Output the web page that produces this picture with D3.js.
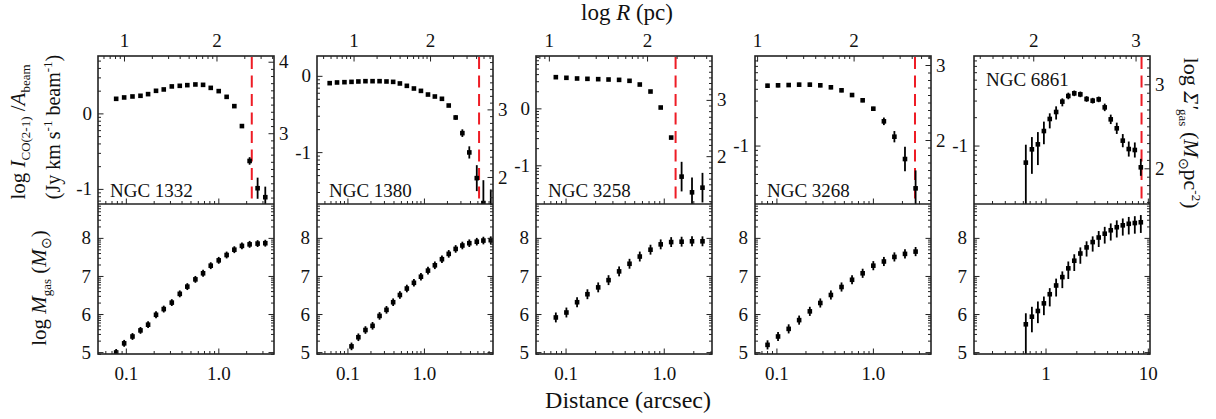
<!DOCTYPE html>
<html><head><meta charset="utf-8">
<script src="https://cdn.jsdelivr.net/npm/d3@7"></script>
<style>
body{margin:0;background:#fff}
svg text{font-family:"Liberation Serif","Times New Roman",serif;fill:#111}
</style></head><body>
<svg id="chart" width="1216" height="419"></svg>
<script>
// ---------------- data ----------------
const galaxies = ["NGC 1332","NGC 1380","NGC 3258","NGC 3268","NGC 6861"];
const pcOffset = [2.02, 1.92, 2.17, 2.20, 2.12];          // log(pc per arcsec)
const redLine = [2.30, 5.26, 1.32, 2.73, 8.68];            // arcsec

const dist1332 = [0.0786,0.0959,0.118,0.144,0.174,0.212,0.257,0.314,0.383,0.462,0.565,0.684,0.828,1.01,1.23,1.49,1.80,2.18,2.66,3.22];
const logI1332 = [0.193,0.211,0.224,0.233,0.255,0.299,0.317,0.357,0.365,0.374,0.383,0.378,0.338,0.295,0.219,0.096,-0.168,-0.630,-0.991,-1.110];
const errI1332 = [0.01,0.01,0.01,0.01,0.01,0.01,0.01,0.01,0.01,0.01,0.01,0.01,0.01,0.01,0.01,0.01,0.02,0.05,0.14,0.14];
const logM1332 = [4.99,5.23,5.41,5.57,5.72,5.98,6.13,6.30,6.53,6.72,6.91,7.07,7.27,7.41,7.55,7.69,7.79,7.83,7.85,7.86];
const errM1332 = [0.09,0.09,0.09,0.09,0.09,0.09,0.09,0.09,0.09,0.09,0.09,0.09,0.09,0.09,0.09,0.09,0.09,0.09,0.09,0.09];

const dist1380 = [0.0586,0.0731,0.0914,0.113,0.139,0.172,0.213,0.263,0.324,0.396,0.485,0.598,0.740,0.914,1.13,1.39,1.72,2.11,2.60,3.18,3.92,4.91,5.99,7.48];
const logI1380 = [-0.096,-0.087,-0.083,-0.079,-0.074,-0.070,-0.070,-0.070,-0.074,-0.079,-0.100,-0.131,-0.166,-0.197,-0.245,-0.271,-0.301,-0.389,-0.546,-0.751,-1.004,-1.341,-1.668,-1.90];
const errI1380 = [0.01,0.01,0.01,0.01,0.01,0.01,0.01,0.01,0.01,0.01,0.01,0.01,0.01,0.01,0.01,0.01,0.01,0.01,0.03,0.05,0.08,0.17,0.30,0.41];
const logM1380 = [null,null,null,5.15,5.39,5.58,5.69,5.95,6.11,6.31,6.50,6.67,6.82,6.98,7.14,7.28,7.44,7.58,7.71,7.80,7.86,7.90,7.93,7.94];
const errM1380 = [0.1,0.1,0.1,0.1,0.1,0.1,0.1,0.1,0.1,0.1,0.1,0.1,0.1,0.1,0.1,0.1,0.1,0.1,0.1,0.1,0.1,0.1,0.1,0.1];

const dist3258 = [0.0796,0.102,0.131,0.167,0.215,0.274,0.351,0.448,0.570,0.733,0.931,1.19,1.52,1.94,2.48];
const logI3258 = [0.548,0.537,0.525,0.519,0.513,0.507,0.501,0.484,0.419,0.296,0.015,-0.513,-1.199,-1.475,-1.393];
const errI3258 = [0.01,0.01,0.01,0.01,0.01,0.01,0.01,0.01,0.01,0.01,0.01,0.02,0.26,0.26,0.26];
const logM3258 = [5.91,6.04,6.31,6.52,6.70,6.89,7.12,7.32,7.51,7.69,7.83,7.89,7.90,7.91,7.91];
const errM3258 = [0.13,0.13,0.13,0.13,0.13,0.13,0.13,0.13,0.13,0.13,0.13,0.13,0.13,0.13,0.13];

const dist3268 = [0.0809,0.104,0.134,0.172,0.222,0.285,0.367,0.473,0.608,0.783,1.01,1.30,1.67,2.15,2.77];
const logI3268 = [-0.365,-0.361,-0.358,-0.354,-0.354,-0.361,-0.382,-0.414,-0.464,-0.520,-0.609,-0.743,-0.906,-1.143,-1.454];
const errI3268 = [0.02,0.02,0.02,0.02,0.02,0.02,0.02,0.02,0.02,0.02,0.02,0.04,0.06,0.13,0.19];
const logM3268 = [5.19,5.41,5.61,5.84,6.07,6.29,6.50,6.71,6.90,7.07,7.27,7.38,7.50,7.58,7.64];
const errM3268 = [0.12,0.12,0.12,0.12,0.12,0.12,0.12,0.12,0.12,0.12,0.12,0.12,0.12,0.12,0.12];

const dist6861 = [0.642,0.736,0.842,0.964,1.10,1.27,1.46,1.67,1.91,2.19,2.52,2.89,3.31,3.79,4.34,4.97,5.69,6.51,7.46,8.54];
const logI6861 = [-1.181,-1.040,-0.987,-0.846,-0.718,-0.644,-0.534,-0.474,-0.446,-0.457,-0.506,-0.524,-0.510,-0.595,-0.722,-0.817,-0.948,-1.037,-1.047,-1.231];
const errIUp6861 = [0.19,0.13,0.13,0.10,0.06,0.06,0.035,0.035,0.03,0.03,0.03,0.03,0.03,0.04,0.05,0.06,0.07,0.08,0.08,0.09];
const errIDn6861 = [0.45,0.26,0.22,0.14,0.10,0.08,0.05,0.035,0.03,0.03,0.03,0.03,0.03,0.04,0.05,0.06,0.07,0.08,0.08,0.09];
const logM6861 = [5.73,5.93,6.08,6.28,6.52,6.75,6.97,7.20,7.40,7.59,7.75,7.89,8.01,8.11,8.20,8.28,8.33,8.37,8.39,8.41];
const errMUp6861 = [0.29,0.26,0.25,0.18,0.16,0.18,0.15,0.18,0.17,0.16,0.16,0.15,0.17,0.18,0.18,0.18,0.18,0.18,0.18,0.19];
const errMDn6861 = [1.2,0.41,0.32,0.31,0.32,0.29,0.29,0.28,0.27,0.27,0.24,0.25,0.25,0.26,0.27,0.27,0.27,0.28,0.28,0.28];

const bottomTickLabels = [["0.1","1.0"],["0.1","1.0"],["0.1","1.0"],["0.1","1.0"],["1","10"]];

// --------------- layout / scales config ---------------
const xDomains = [[0.05,4.0],[0.04,8.0],[0.05,3.1],[0.06,4.0],[0.2,10.5]];
const yLeftDomains = [[-1.2,0.76],[-1.68,0.26],[-1.68,0.92],[-1.62,-0.05],[-1.62,-0.05]];
const yRightDomains = [[2.01,4.08],[1.6,3.79],[1.15,3.78],[1.147,3.12],[1.575,3.337]];
const massDomain = [4.95,8.89];

const panels = [
  {dist:dist1332, I:logI1332, iu:errI1332, id:errI1332, M:logM1332, mu:errM1332, md:errM1332},
  {dist:dist1380, I:logI1380, iu:errI1380, id:errI1380, M:logM1380, mu:errM1380, md:errM1380},
  {dist:dist3258, I:logI3258, iu:errI3258, id:errI3258, M:logM3258, mu:errM3258, md:errM3258},
  {dist:dist3268, I:logI3268, iu:errI3268, id:errI3268, M:logM3268, mu:errM3268, md:errM3268},
  {dist:dist6861, I:logI6861, iu:errIUp6861, id:errIDn6861, M:logM6861, mu:errMUp6861, md:errMDn6861}
];

const L = {left0:98, step:219, width:176, top:56, mid:204, bottom:354};
const FONT = '"Liberation Serif","Times New Roman",serif';
const TICK = 19;
const svg = d3.select("#chart");

function intRange(dom){const a=[];for(let n=Math.ceil(dom[0]-1e-9);n<=Math.floor(dom[1]+1e-9);n++)a.push(n);return a;}
function logStyleMinors(dom){const a=[];for(let n=Math.floor(dom[0]);n<=Math.ceil(dom[1]);n++)for(let k=2;k<=9;k++){const v=n+Math.log10(k);if(v>dom[0]&&v<dom[1])a.push(v);}return a;}
function linMinors(dom,step){const a=[];for(let v=Math.ceil(dom[0]/step)*step;v<dom[1];v+=step){if(Math.abs(v-Math.round(v))>1e-6)a.push(v);}return a;}
function decadeMajors(dom){const a=[];for(let n=Math.ceil(Math.log10(dom[0])-1e-9);n<=Math.floor(Math.log10(dom[1])+1e-9);n++)a.push(Math.pow(10,n));return a;}
function decadeMinors(dom){const a=[];for(let n=Math.floor(Math.log10(dom[0]));n<=Math.ceil(Math.log10(dom[1]));n++)for(let k=2;k<=9;k++){const v=k*Math.pow(10,n);if(v>dom[0]&&v<dom[1])a.push(v);}return a;}

function drawAxis(g, gen, scale, majors, minors, fmt, transform, pad){
  const gm = g.append("g").attr("transform",transform)
    .call(gen(scale).tickValues(majors).tickSize(-5.5).tickPadding(pad||0).tickFormat(fmt||(()=> "")));
  const gn = g.append("g").attr("transform",transform)
    .call(gen(scale).tickValues(minors).tickSize(-3).tickFormat(()=> ""));
  [gm,gn].forEach(a=>{
    a.attr("font-family",FONT).attr("font-size",TICK);
    a.select(".domain").remove();
    a.selectAll("line").attr("stroke","#222").attr("stroke-width",1);
  });
  gm.selectAll("text").attr("fill","#111");
}

panels.forEach((p,i)=>{
  const x0 = L.left0 + i*L.step, W = L.width;
  const g = svg.append("g").attr("transform",`translate(${x0},0)`);
  const x = d3.scaleLog().domain(xDomains[i]).range([0,W]);
  const yI = d3.scaleLinear().domain(yLeftDomains[i]).range([L.mid,L.top]);
  const yS = d3.scaleLinear().domain(yRightDomains[i]).range([L.mid,L.top]);
  const yM = d3.scaleLinear().domain(massDomain).range([L.bottom,L.mid]);
  const c = pcOffset[i];
  const rDom = [Math.log10(xDomains[i][0])+c, Math.log10(xDomains[i][1])+c];
  const xR = d3.scaleLinear().domain(rDom).range([0,W]);

  svg.append("clipPath").attr("id","ct"+i).append("rect").attr("x",0).attr("y",L.top).attr("width",W).attr("height",L.mid-L.top);
  svg.append("clipPath").attr("id","cb"+i).append("rect").attr("x",0).attr("y",L.mid).attr("width",W).attr("height",L.bottom-L.mid);

  g.append("line").attr("x1",x(redLine[i])).attr("x2",x(redLine[i]))
    .attr("y1",L.top+1).attr("y2",L.mid)
    .attr("stroke","#ee1c25").attr("stroke-width",2).attr("stroke-dasharray","12,6.5");

  const top = p.dist.map((d,j)=>({d, v:p.I[j], up:p.iu[j], dn:p.id[j]})).filter(o=>o.v!=null);
  const gt = g.append("g").attr("clip-path",`url(#ct${i})`);
  gt.selectAll("line.e").data(top).join("line").attr("class","e")
    .attr("x1",o=>x(o.d)).attr("x2",o=>x(o.d))
    .attr("y1",o=>yI(o.v+o.up)).attr("y2",o=>yI(o.v-o.dn))
    .attr("stroke","#000").attr("stroke-width",1.8);
  gt.selectAll("rect.m").data(top).join("rect").attr("class","m")
    .attr("x",o=>x(o.d)-2.3).attr("y",o=>yI(o.v)-2.3).attr("width",4.6).attr("height",4.6)
    .attr("fill","#000");

  const bot = p.dist.map((d,j)=>({d, v:p.M[j], up:p.mu[j], dn:p.md[j]})).filter(o=>o.v!=null);
  const gb = g.append("g").attr("clip-path",`url(#cb${i})`);
  gb.selectAll("line.e").data(bot).join("line").attr("class","e")
    .attr("x1",o=>x(o.d)).attr("x2",o=>x(o.d))
    .attr("y1",o=>yM(o.v+o.up)).attr("y2",o=>yM(o.v-o.dn))
    .attr("stroke","#000").attr("stroke-width",1.8);
  gb.selectAll("rect.m").data(bot).join("rect").attr("class","m")
    .attr("x",o=>x(o.d)-2.3).attr("y",o=>yM(o.v)-2.3).attr("width",4.6).attr("height",4.6)
    .attr("fill","#000");

  const xMaj = decadeMajors(xDomains[i]), xMin = decadeMinors(xDomains[i]);
  const lbl = bottomTickLabels[i];
  drawAxis(g, d3.axisTop, xR, intRange(rDom), logStyleMinors(rDom), d=>String(d), `translate(0,${L.top})`, 9);
  drawAxis(g, d3.axisBottom, x, xMaj, xMin, null, `translate(0,${L.mid})`, 0);
  drawAxis(g, d3.axisBottom, x, xMaj, xMin, (d,k)=>lbl[k], `translate(0,${L.bottom})`, 12.5);
  drawAxis(g, d3.axisLeft, yI, intRange(yLeftDomains[i]), logStyleMinors(yLeftDomains[i]), d=>String(d), `translate(0,0)`, 6);
  drawAxis(g, d3.axisRight, yS, intRange(yRightDomains[i]), linMinors(yRightDomains[i],0.1), d=>String(d), `translate(${W},0)`, 5);
  drawAxis(g, d3.axisLeft, yM, intRange(massDomain), logStyleMinors(massDomain), d=>String(d), `translate(0,0)`, 7);
  drawAxis(g, d3.axisRight, yM, intRange(massDomain), logStyleMinors(massDomain), null, `translate(${W},0)`, 0);

  g.append("rect").attr("x",0).attr("y",L.top).attr("width",W).attr("height",L.bottom-L.top)
    .attr("fill","none").attr("stroke","#222").attr("stroke-width",1.6);
  g.append("line").attr("x1",0).attr("x2",W).attr("y1",L.mid).attr("y2",L.mid)
    .attr("stroke","#222").attr("stroke-width",1.6);

  g.append("text").attr("x",12).attr("y", i===4 ? 86 : 196.5)
    .attr("font-size",19).text(galaxies[i]);
});

// ---------------- titles ----------------
svg.append("text").attr("x",627).attr("y",20).attr("text-anchor","middle").attr("font-size",23)
  .call(t=>{t.append("tspan").text("log ");t.append("tspan").attr("font-style","italic").text("R");t.append("tspan").text(" (pc)");});
svg.append("text").attr("x",628).attr("y",408).attr("text-anchor","middle").attr("font-size",24)
  .text("Distance (arcsec)");

const t1 = svg.append("text").attr("transform","translate(25,132) rotate(-90)").attr("text-anchor","middle").attr("font-size",21);
t1.append("tspan").text("log ");
t1.append("tspan").attr("font-style","italic").text("I");
t1.append("tspan").attr("font-size",13).attr("dy",5).text("CO(2-1)");
t1.append("tspan").attr("dy",-5).text(" /");
t1.append("tspan").attr("font-style","italic").text("A");
t1.append("tspan").attr("font-size",13).attr("dy",5).text("beam");

const t2 = svg.append("text").attr("transform","translate(60,127) rotate(-90)").attr("text-anchor","middle").attr("font-size",20);
t2.append("tspan").text("(Jy km s");
t2.append("tspan").attr("font-size",13).attr("dy",-8).text("-1");
t2.append("tspan").attr("dy",8).text(" beam");
t2.append("tspan").attr("font-size",13).attr("dy",-8).text("-1");
t2.append("tspan").attr("dy",8).text(")");

const t3 = svg.append("text").attr("transform","translate(46,288) rotate(-90)").attr("text-anchor","middle").attr("font-size",21);
t3.append("tspan").text("log ");
t3.append("tspan").attr("font-style","italic").text("M");
t3.append("tspan").attr("font-size",13).attr("dy",5).text("gas");
t3.append("tspan").attr("dy",-5).text(" (");
t3.append("tspan").attr("font-style","italic").text("M");
t3.append("tspan").attr("font-size",14).attr("dy",5).text("⊙");
t3.append("tspan").attr("dy",-5).text(")");

const t4 = svg.append("text").attr("transform","translate(1184,133) rotate(90)").attr("text-anchor","middle").attr("font-size",22);
t4.append("tspan").text("log ");
t4.append("tspan").attr("font-style","italic").text("Σ′");
t4.append("tspan").attr("font-size",13).attr("dy",5).text("gas");
t4.append("tspan").attr("dy",-5).text(" (");
t4.append("tspan").attr("font-style","italic").text("M");
t4.append("tspan").attr("font-size",14).attr("dy",5).text("⊙");
t4.append("tspan").attr("dy",-5).text("pc");
t4.append("tspan").attr("font-size",13).attr("dy",-8).text("-2");
t4.append("tspan").attr("dy",8).text(")");
</script>
</body></html>
